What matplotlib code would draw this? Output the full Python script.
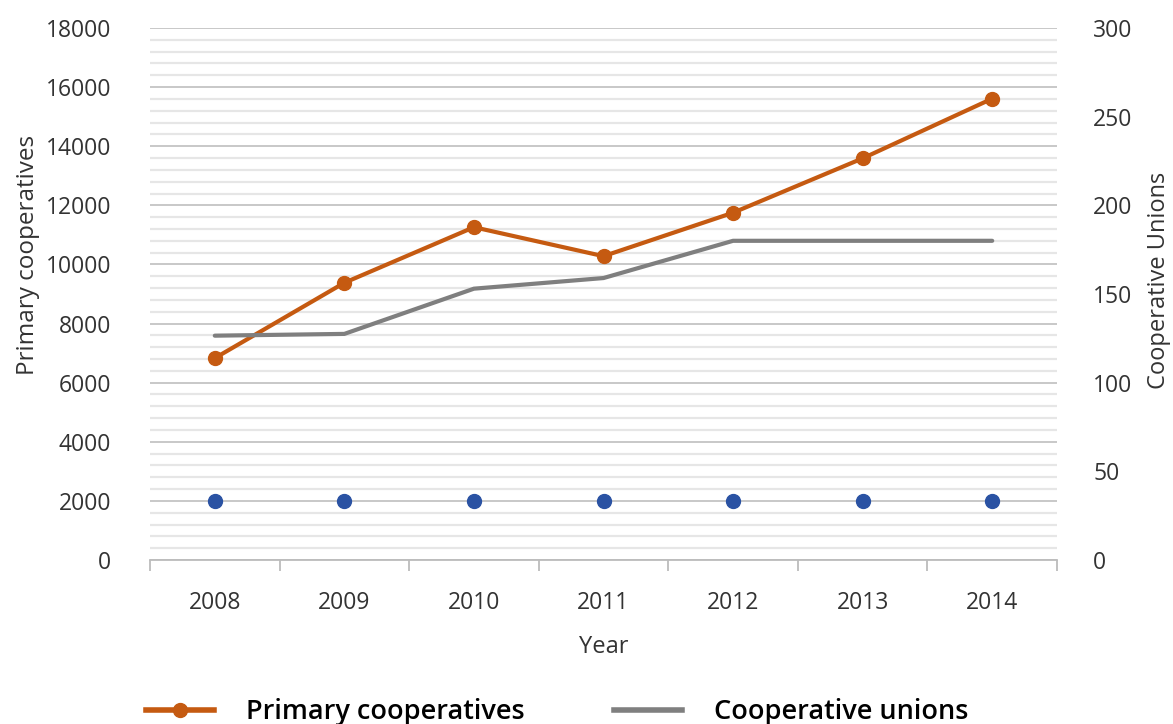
import numpy as np
import matplotlib
matplotlib.use("Agg")
import matplotlib.pyplot as plt
from matplotlib.lines import Line2D

plt.rcParams['font.family'] = ['Open Sans', 'DejaVu Sans']

# datos
years = ['2008', '2009', '2010', '2011', '2012', '2013', '2014']
primary_coops = [6830, 9380, 11260, 10280, 11750, 13590, 15610]
coop_unions = [126.5, 127.5, 153, 159, 180, 180, 180]
base_points = [2000, 2000, 2000, 2000, 2000, 2000, 2000]

naranja = '#c55a11'
gris = '#7f7f7f'
azul = '#2a52a3'
texto = '#333333'

fig = plt.figure(figsize=(11.73, 7.24), dpi=100)
ax = fig.add_axes([150/1173, 1 - 560/724, 907/1173, 532/724])
ax2 = ax.twinx()

x = np.arange(len(years))

# lineas principales
ax.plot(x, primary_coops, color=naranja, lw=3, marker='o', ms=10,
        zorder=4, solid_capstyle='round')
ax.plot(x, base_points, ls='none', marker='o', ms=10, color=azul, zorder=4)
ax2.plot(x, coop_unions, color=gris, lw=3, solid_capstyle='round', zorder=3)

# ejes
ax.set_xlim(-0.5, len(years) - 0.5)
ax.set_ylim(0, 18000)
ax2.set_ylim(0, 300)
ax.set_yticks(np.arange(0, 18001, 2000))
ax.set_yticks(np.arange(0, 18001, 400), minor=True)
ax2.set_yticks(np.arange(0, 301, 50))
ax.set_xticks(x)
ax.set_xticklabels(years)
ax.set_xticks(np.arange(-0.5, len(years)), minor=True)

ax.grid(axis='y', which='major', color='#c4c4c4', lw=1.3, zorder=0)
ax.grid(axis='y', which='minor', color='#e6e6e6', lw=1.6, zorder=0)
ax.set_axisbelow(True)

for a in (ax, ax2):
    for s in ('left', 'right', 'top'):
        a.spines[s].set_visible(False)
ax.spines['bottom'].set_color('#bcbcbc')
ax.spines['bottom'].set_linewidth(1.3)
ax2.spines['bottom'].set_visible(False)

ax.tick_params(axis='x', which='major', length=0, pad=22, labelsize=16.5, labelcolor=texto)
ax.tick_params(axis='x', which='minor', length=8, width=1.3, color='#bcbcbc')
ax.tick_params(axis='y', which='both', length=0, pad=28, labelsize=16.5, labelcolor=texto)
ax2.tick_params(axis='y', length=0, pad=26, labelsize=16.5, labelcolor=texto)

ax.set_xlabel('Year', fontsize=17, color=texto, labelpad=15)
ax.set_ylabel('Primary cooperatives', fontsize=17.5, color=texto)
ax2.set_ylabel('Cooperative Unions', fontsize=17, color=texto)
ax.yaxis.set_label_coords(-110/907, (560 - 255)/532)
ax2.yaxis.set_label_coords(1 + 90/907, (560 - 280)/532)

# leyenda abajo
handles = [Line2D([], [], color=naranja, lw=4, marker='o', ms=10),
           Line2D([], [], color=gris, lw=4)]
fig.legend(handles, ['Primary cooperatives', 'Cooperative unions'],
           loc='center left', bbox_to_anchor=(146/1173, 12/724), ncol=2,
           frameon=False, borderpad=0, borderaxespad=0, handlelength=2.5,
           handletextpad=1.2, columnspacing=3.3,
           prop={'size': 19.5, 'weight': 'semibold'})

fig.savefig('out.png', dpi=100)
